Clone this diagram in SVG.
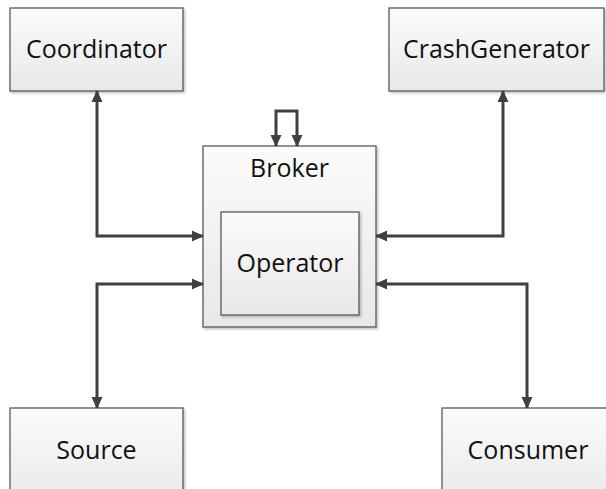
<svg xmlns="http://www.w3.org/2000/svg" width="606" height="489" viewBox="0 0 606 489">
  <defs>
    <linearGradient id="boxFill" x1="0" y1="0" x2="0" y2="1">
      <stop offset="0" stop-color="#fbfbfb"/>
      <stop offset="1" stop-color="#e8e8e8"/>
    </linearGradient>
    <filter id="shadow" x="-5%" y="-5%" width="115%" height="115%">
      <feDropShadow dx="1.5" dy="1.5" stdDeviation="0.8" flood-color="#000" flood-opacity="0.25"/>
    </filter>
    <marker id="arrow" viewBox="0 0 12 12" refX="11" refY="6" markerWidth="12" markerHeight="12" markerUnits="userSpaceOnUse" orient="auto-start-reverse">
      <path d="M0,0.5 L12,6 L0,11.5 Z" fill="#404040"/>
    </marker>
  </defs>
  <style>
    .box { fill: url(#boxFill); stroke: #5a5a5a; stroke-width: 1.3; filter: url(#shadow); }
    .label { font-family: "Open Sans", "Liberation Sans", sans-serif; font-size: 25px; fill: #111; text-anchor: middle; }
    .conn { fill: none; stroke: #404040; stroke-width: 3; marker-start: url(#arrow); marker-end: url(#arrow); }
  </style>
  <rect width="606" height="489" fill="#ffffff"/>

  <g id="coordinator">
    <rect class="box" x="10" y="8" width="173" height="83"/>
    <text class="label" x="96.5" y="58">Coordinator</text>
  </g>

  <g id="crashgenerator">
    <rect class="box" x="389" y="8" width="215" height="83"/>
    <text class="label" x="496.5" y="58">CrashGenerator</text>
  </g>

  <g id="broker">
    <rect class="box" x="203" y="146" width="173" height="181"/>
    <text class="label" x="289.5" y="177">Broker</text>
    <g id="operator">
      <rect class="box" x="221" y="212" width="138" height="103"/>
      <text class="label" x="290" y="272">Operator</text>
    </g>
  </g>

  <g id="source">
    <rect class="box" x="10" y="408" width="173" height="100"/>
    <text class="label" x="96.5" y="459">Source</text>
  </g>

  <g id="consumer">
    <rect class="box" x="442" y="408" width="180" height="100"/>
    <text class="label" x="528" y="459">Consumer</text>
  </g>

  <g id="connectors">
    <path class="conn" d="M97,91 L97,236 L203,236"/>
    <path class="conn" d="M503,91 L503,236 L376,236"/>
    <path class="conn" d="M97,408 L97,284 L203,284"/>
    <path class="conn" d="M527,408 L527,284 L376,284"/>
    <path class="conn" d="M276,146 L276,111 L297,111 L297,146"/>
  </g>
</svg>
